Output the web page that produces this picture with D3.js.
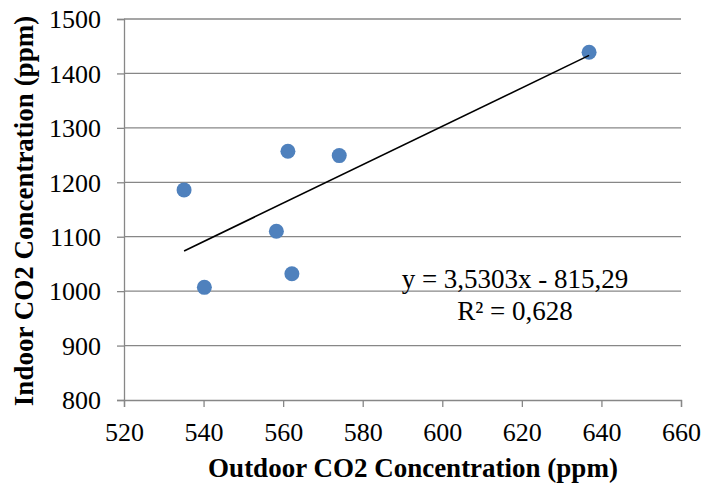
<!DOCTYPE html>
<html>
<head>
<meta charset="utf-8">
<script src="https://cdn.jsdelivr.net/npm/d3@7"></script>
<style>
  body { margin: 0; background: #fff; }
  svg text { font-family: "Liberation Serif", "Times New Roman", serif; fill: #000; }
</style>
</head>
<body>
<div class="chart"></div>
<script>
// Outdoor vs indoor CO2
const OUTDOOR = [535.1, 540.2, 558.3, 561.2, 562.2, 574.1, 636.9]
const INDOOR = [1186, 1007, 1110, 1257, 1032, 1249, 1439]
const X_TICKS = [520, 540, 560, 580, 600, 620, 640, 660]
const Y_TICKS = [800, 900, 1000, 1100, 1200, 1300, 1400, 1500]
const SLOPE = 3.5303
const INTERCEPT = -815.29
const EQ_LINES = ['y = 3,5303x - 815,29', 'R² = 0,628']

var svgWidth = 703
var svgHeight = 487
var margin = { top: 19, right: 22, bottom: 87, left: 124 }
var width = svgWidth - margin.left - margin.right
var height = svgHeight - margin.top - margin.bottom

var svg = d3.select('.chart').append('svg')
    .attr('width', svgWidth)
    .attr('height', svgHeight)

var chartGroup = svg.append('g')
    .attr('transform', `translate(${margin.left}, ${margin.top})`)

var xScale = d3.scaleLinear().domain([520, 660]).range([0, width])
var yScale = d3.scaleLinear().domain([800, 1500]).range([height, 0])

// gridlines
chartGroup.append('g')
    .selectAll('line')
    .data(Y_TICKS.slice(1))
    .enter().append('line')
    .attr('x1', 0).attr('x2', width)
    .attr('y1', d => yScale(d)).attr('y2', d => yScale(d))
    .attr('stroke', '#878787')
    .attr('stroke-width', 1.3)

// y axis
var yAxis = chartGroup.append('g')
    .call(d3.axisLeft(yScale).tickValues(Y_TICKS).tickSize(7).tickPadding(16).tickFormat(d3.format('d')))
yAxis.select('.domain').attr('stroke', '#878787').attr('stroke-width', 1.3)
yAxis.selectAll('.tick line').attr('stroke', '#878787').attr('stroke-width', 1.3)
yAxis.selectAll('text').attr('font-size', '26px').attr('font-family', 'Liberation Serif').attr('dy', '0.34em')

// x axis
var xAxis = chartGroup.append('g')
    .attr('transform', `translate(0, ${height})`)
    .call(d3.axisBottom(xScale).tickValues(X_TICKS).tickSize(7).tickPadding(16).tickFormat(d3.format('d')))
xAxis.select('.domain').attr('stroke', '#878787').attr('stroke-width', 1.3)
xAxis.selectAll('.tick line').attr('stroke', '#878787').attr('stroke-width', 1.3)
xAxis.selectAll('text').attr('font-size', '26px').attr('font-family', 'Liberation Serif')

// points
var data = OUTDOOR.map((x, i) => ({ x: x, y: INDOOR[i] }))
chartGroup.selectAll('circle')
    .data(data)
    .enter().append('circle')
    .attr('cx', d => xScale(d.x))
    .attr('cy', d => yScale(d.y))
    .attr('r', 7.5)
    .attr('fill', '#4F81BD')

// linear trendline across the data range
var xExt = d3.extent(OUTDOOR)
chartGroup.append('line')
    .attr('x1', xScale(xExt[0])).attr('y1', yScale(SLOPE * xExt[0] + INTERCEPT))
    .attr('x2', xScale(xExt[1])).attr('y2', yScale(SLOPE * xExt[1] + INTERCEPT))
    .attr('stroke', '#000')
    .attr('stroke-width', 1.6)

// equation label
svg.append('g').selectAll('text')
    .data(EQ_LINES)
    .enter().append('text')
    .attr('x', 515)
    .attr('y', (d, i) => 288 + i * 32)
    .attr('text-anchor', 'middle')
    .attr('font-size', '27px')
    .text(d => d)

// axis titles
svg.append('text')
    .attr('x', 413)
    .attr('y', 477)
    .attr('text-anchor', 'middle')
    .attr('font-size', '27px')
    .attr('font-weight', 'bold')
    .text('Outdoor CO2 Concentration (ppm)')

svg.append('text')
    .attr('transform', `translate(33, 211) rotate(-90)`)
    .attr('text-anchor', 'middle')
    .attr('font-size', '27px')
    .attr('font-weight', 'bold')
    .text('Indoor CO2 Concentration (ppm)')
</script>
</body>
</html>
